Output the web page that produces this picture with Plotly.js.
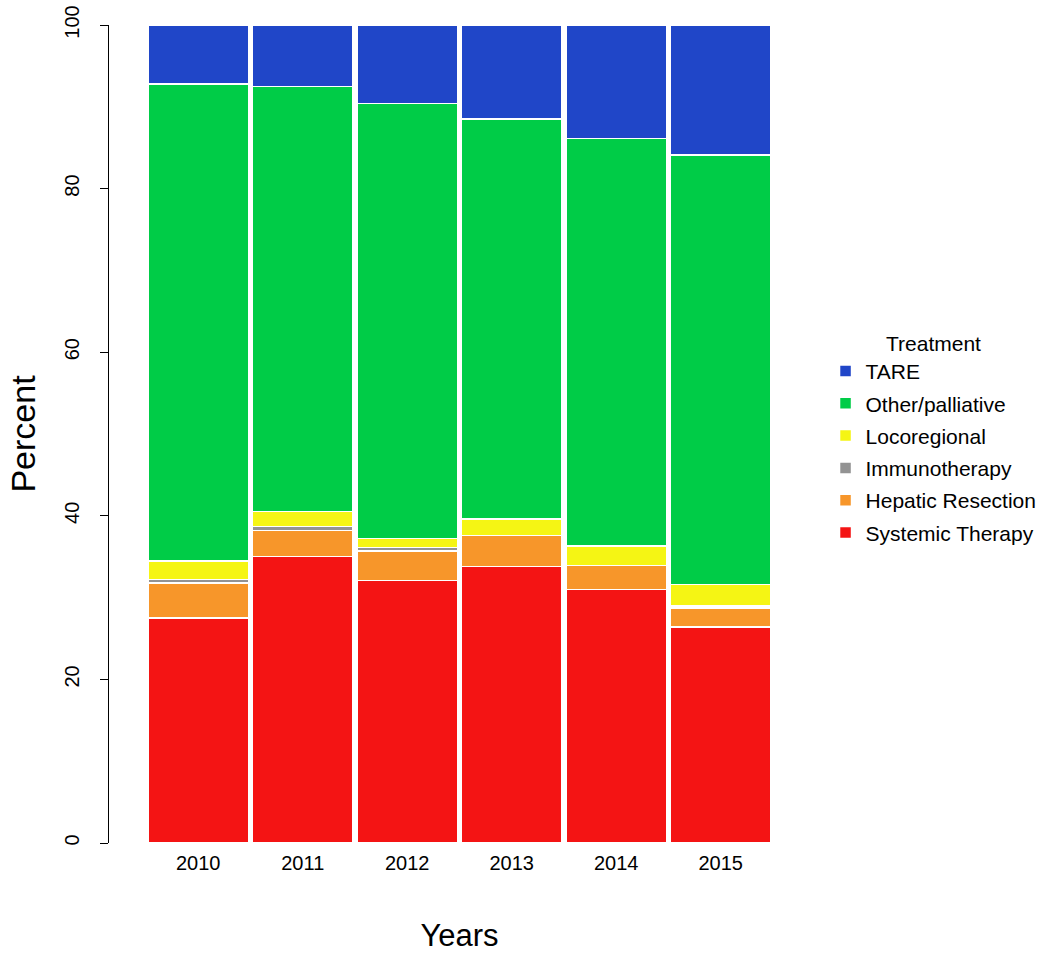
<!DOCTYPE html>
<html>
<head>
<meta charset="utf-8">
<script src="https://cdn.plot.ly/plotly-3.0.1.min.js"></script>
<style>html,body{margin:0;padding:0;background:#fff;}#chart{width:1050px;height:957px;}</style>
</head>
<body>
<div id="chart"></div>
<script>
const years = ["2010","2011","2012","2013","2014","2015"];
const systemicTherapy = [27.5, 35.0, 32.1, 33.8, 31.0, 26.4];
const hepaticResection = [4.3, 3.2, 3.6, 3.8, 2.9, 2.3];
const immunotherapy = [0.4, 0.5, 0.4, 0.0, 0.0, 0.3];
const locoregional = [2.3, 1.8, 1.1, 2.0, 2.4, 2.6];
const otherPalliative = [58.3, 52.0, 53.2, 48.9, 49.8, 52.5];
const tare = [7.2, 7.5, 9.6, 11.5, 13.9, 15.9];

const seriesNames = ["Systemic Therapy","Hepatic Resection","Immunotherapy","Locoregional","Other/palliative","TARE"];
const seriesValues = [systemicTherapy, hepaticResection, immunotherapy, locoregional, otherPalliative, tare];
const seriesColors = ["#F41414","#F7962A","#939393","#F5F514","#00CC47","#2046C8"];

const traces = seriesNames.map((n,i)=>({
  type:'bar', name:n, x:years, y:seriesValues[i], legendgroup:'g'+i,
  legendrank: seriesNames.length - i,
  marker:{color:seriesColors[i], line:{color:'#ffffff', width:1.5}},
  hoverinfo:'x+y+name'
}));

const W = 1050 - 108 - 277;
const layout = {
  width:1050, height:957,
  margin:{l:108, r:277, t:25, b:114, autoexpand:false},
  barmode:'stack', bargap:0.04,
  paper_bgcolor:'#fff', plot_bgcolor:'#fff',
  font:{family:'Liberation Sans, Arial, sans-serif', color:'#000'},
  xaxis:{type:'category', domain:[38/W,1], range:[-0.5,5.5], showline:false, showgrid:false, zeroline:false, ticks:'',
    tickfont:{size:20}, ticklabelstandoff:6,
    title:{text:'Years', font:{size:31}, standoff:51}},
  yaxis:{anchor:'free', position:0, range:[0,100], tickvals:[0,20,40,60,80,100], showgrid:false, zeroline:false,
    showline:true, linecolor:'#000', linewidth:1, ticks:'outside', ticklen:8, tickcolor:'#000',
    tickangle:-90, tickfont:{size:20}, ticklabelstandoff:13,
    title:{text:'Percent', font:{size:34}, standoff:14}},
  legend:{x:1.079, xanchor:'left', y:0.635, yanchor:'top', font:{size:21}, traceorder:'grouped',
    tracegroupgap:2,
    title:{text:'Treatment', side:'top center', font:{size:21}},
    bgcolor:'rgba(0,0,0,0)'},
  showlegend:true
};
Plotly.newPlot('chart', traces, layout, {displayModeBar:false, staticPlot:true});
</script>
</body>
</html>
